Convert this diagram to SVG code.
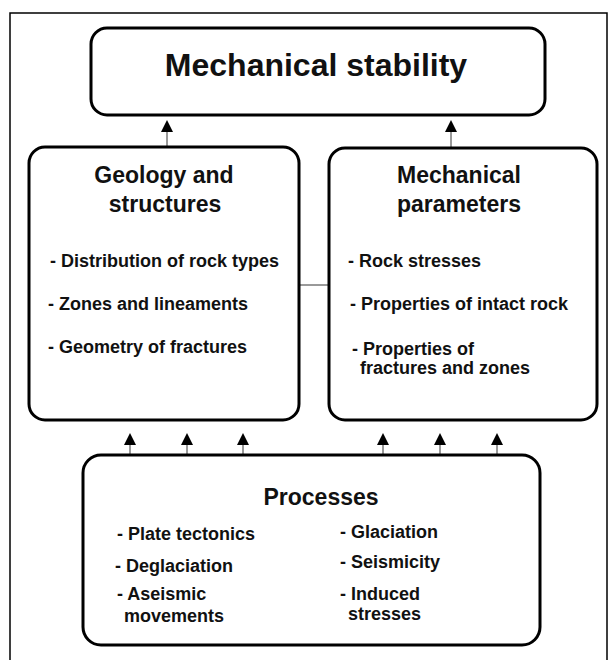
<svg xmlns="http://www.w3.org/2000/svg" width="611" height="660" viewBox="0 0 611 660">
<style>
.box{fill:none;stroke:#000;stroke-width:3}
.frame{fill:none;stroke:#000;stroke-width:1.5}
.t{font-family:"Liberation Sans",Arial,sans-serif;font-weight:bold;fill:#111}
.h1{font-size:32px}
.h2{font-size:23px}
.b{font-size:18px}
.ln{stroke:#000;stroke-width:0.8}
.ah{fill:#000}
</style>
<path class="frame" d="M10 660 V13 H607 V660"/>
<g id="connectors">
<line class="ln" x1="299" y1="285" x2="329" y2="285"/>
<line class="ln" x1="167" y1="132" x2="167" y2="147"/>
<line class="ln" x1="451" y1="132" x2="451" y2="148"/>
<path class="ah" d="M167 120 L173 132 L161 132 Z"/>
<path class="ah" d="M451 120 L457 132 L445 132 Z"/>
<line class="ln" x1="130" y1="445" x2="130" y2="455"/>
<line class="ln" x1="187" y1="445" x2="187" y2="455"/>
<line class="ln" x1="243" y1="445" x2="243" y2="455"/>
<line class="ln" x1="383" y1="445" x2="383" y2="455"/>
<line class="ln" x1="440" y1="445" x2="440" y2="455"/>
<line class="ln" x1="497" y1="445" x2="497" y2="455"/>
<path class="ah" d="M130 433 L136 445 L124 445 Z"/>
<path class="ah" d="M187 433 L193 445 L181 445 Z"/>
<path class="ah" d="M243 433 L249 445 L237 445 Z"/>
<path class="ah" d="M383 433 L389 445 L377 445 Z"/>
<path class="ah" d="M440 433 L446 445 L434 445 Z"/>
<path class="ah" d="M497 433 L503 445 L491 445 Z"/>
</g>
<g id="stability">
<rect class="box" x="91" y="28" width="454" height="87" rx="16"/>
<text class="t h1" x="316" y="76" text-anchor="middle">Mechanical stability</text>
</g>
<g id="geology">
<rect class="box" x="29" y="147" width="270" height="273" rx="16"/>
<text class="t h2" x="164" y="183" text-anchor="middle">Geology and</text>
<text class="t h2" x="165" y="212" text-anchor="middle">structures</text>
<text class="t b" x="50" y="267">- Distribution of rock types</text>
<text class="t b" x="48" y="310">- Zones and lineaments</text>
<text class="t b" x="48" y="353">- Geometry of fractures</text>
</g>
<g id="parameters">
<rect class="box" x="329" y="148" width="268" height="272" rx="16"/>
<text class="t h2" x="459" y="183" text-anchor="middle">Mechanical</text>
<text class="t h2" x="459" y="212" text-anchor="middle">parameters</text>
<text class="t b" x="348" y="267">- Rock stresses</text>
<text class="t b" x="350" y="310">- Properties of intact rock</text>
<text class="t b" x="352" y="355">- Properties of</text>
<text class="t b" x="360" y="374">fractures and zones</text>
</g>
<g id="processes">
<rect class="box" x="83" y="455" width="457" height="190" rx="18"/>
<text class="t h2" x="321" y="505" text-anchor="middle">Processes</text>
<text class="t b" x="117" y="540">- Plate tectonics</text>
<text class="t b" x="115" y="572">- Deglaciation</text>
<text class="t b" x="117" y="600">- Aseismic</text>
<text class="t b" x="124" y="622">movements</text>
<text class="t b" x="340" y="538">- Glaciation</text>
<text class="t b" x="340" y="568">- Seismicity</text>
<text class="t b" x="340" y="600">- Induced</text>
<text class="t b" x="348" y="620">stresses</text>
</g>
</svg>
